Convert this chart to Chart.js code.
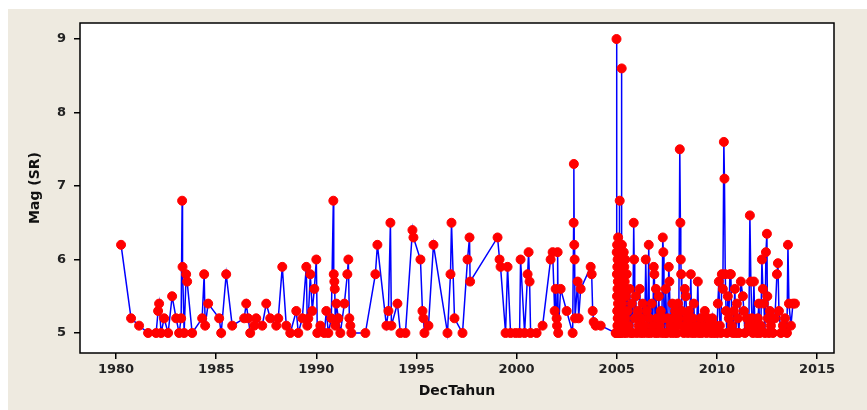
<!DOCTYPE html>
<html>
<head>
<meta charset="utf-8">
<script src="https://cdn.jsdelivr.net/npm/chart.js@4.4.1/dist/chart.umd.min.js"></script>
<style>
  html, body { margin: 0; padding: 0; background: #ffffff; }
  #wrap { width: 867px; height: 410px; position: relative; }
</style>
</head>
<body>
<div id="wrap"><canvas id="chart-ts" width="867" height="410"></canvas></div>
<script>
// time (decimal year) and magnitude
const decTahun = [
  1980.25, 1980.75, 1981.15, 1981.6, 1982.0, 1982.1, 1982.15, 1982.25, 1982.4, 1982.6,
  1982.8, 1983.0, 1983.15, 1983.25, 1983.3, 1983.32, 1983.4, 1983.5, 1983.55, 1983.8,
  1984.3, 1984.4, 1984.45, 1984.6, 1985.15, 1985.25, 1985.5, 1985.8, 1986.4, 1986.5,
  1986.6, 1986.7, 1986.9, 1987.0, 1987.3, 1987.5, 1987.7, 1988.0, 1988.1, 1988.3,
  1988.5, 1988.7, 1989.0, 1989.1, 1989.3, 1989.5, 1989.55, 1989.6, 1989.7, 1989.8,
  1989.9, 1990.0, 1990.05, 1990.2, 1990.4, 1990.5, 1990.6, 1990.75, 1990.85, 1990.87,
  1990.9, 1990.92, 1990.95, 1991.0, 1991.1, 1991.2, 1991.4, 1991.55, 1991.6, 1991.65,
  1991.7, 1991.75, 1992.45, 1992.95, 1993.05, 1993.5, 1993.6, 1993.7, 1993.75, 1994.05,
  1994.2, 1994.45, 1994.8, 1994.85, 1995.2, 1995.3, 1995.35, 1995.4, 1995.6, 1995.85,
  1996.55, 1996.7, 1996.75, 1996.9, 1997.3, 1997.55, 1997.65, 1997.68, 1999.05, 1999.15,
  1999.2, 1999.45, 1999.55, 1999.7, 1999.95, 2000.15, 2000.2, 2000.4, 2000.55, 2000.6,
  2000.65, 2000.7, 2001.0, 2001.3, 2001.7, 2001.8, 2001.9, 2001.95, 2002.0, 2002.02,
  2002.05, 2002.08, 2002.2, 2002.5, 2002.8, 2002.85, 2002.86, 2002.88, 2002.9, 2002.92,
  2003.05, 2003.1, 2003.2, 2003.7, 2003.75, 2003.8, 2003.85, 2003.95, 2004.2, 2004.95,
  // 2005 aftershock block
  2004.98, 2004.99, 2005.0, 2005.01, 2005.015, 2005.02, 2005.025, 2005.03, 2005.035, 2005.04,
  2005.045, 2005.05, 2005.055, 2005.06, 2005.065, 2005.07, 2005.075, 2005.08, 2005.085, 2005.09,
  2005.095, 2005.1, 2005.105, 2005.11, 2005.115, 2005.12, 2005.125, 2005.13, 2005.14, 2005.15,
  2005.16, 2005.17, 2005.18, 2005.19, 2005.2, 2005.21, 2005.22, 2005.23, 2005.24, 2005.25,
  2005.26, 2005.27, 2005.28, 2005.29, 2005.3, 2005.31, 2005.32, 2005.33, 2005.34, 2005.35,
  2005.36, 2005.37, 2005.38, 2005.39, 2005.4, 2005.42, 2005.44, 2005.46, 2005.48, 2005.5,
  2005.55, 2005.6, 2005.65, 2005.7, 2005.75, 2005.8,
  // 2005.8 - 2013.9
  2005.85, 2005.87, 2005.9, 2005.95, 2006.0, 2006.05, 2006.1, 2006.15, 2006.2, 2006.25,
  2006.3, 2006.35, 2006.4, 2006.45, 2006.5, 2006.55, 2006.6, 2006.63, 2006.7, 2006.75,
  2006.8, 2006.85, 2006.88, 2006.92, 2006.96, 2007.0, 2007.05, 2007.1, 2007.15, 2007.2,
  2007.25, 2007.3, 2007.33, 2007.36, 2007.4, 2007.45, 2007.5, 2007.55, 2007.6, 2007.63,
  2007.68, 2007.72, 2007.78, 2007.82, 2007.88, 2007.92, 2007.98, 2008.02, 2008.06, 2008.1,
  2008.15, 2008.18, 2008.2, 2008.22, 2008.25, 2008.3, 2008.35, 2008.4, 2008.45, 2008.5,
  2008.55, 2008.6, 2008.65, 2008.7, 2008.75, 2008.8, 2008.85, 2008.9, 2009.0, 2009.05,
  2009.1, 2009.18, 2009.25, 2009.32, 2009.4, 2009.48, 2009.55, 2009.62, 2009.7, 2009.78,
  2009.85, 2009.92, 2010.0, 2010.05, 2010.1, 2010.15, 2010.2, 2010.25, 2010.3, 2010.35,
  2010.38, 2010.42, 2010.46, 2010.5, 2010.55, 2010.6, 2010.65, 2010.7, 2010.75, 2010.8,
  2010.85, 2010.9, 2010.95, 2011.0, 2011.05, 2011.1, 2011.2, 2011.3, 2011.35, 2011.4,
  2011.5, 2011.6, 2011.65, 2011.7, 2011.75, 2011.8, 2011.85, 2011.9, 2012.0, 2012.05,
  2012.1, 2012.15, 2012.2, 2012.25, 2012.3, 2012.35, 2012.4, 2012.45, 2012.5, 2012.52,
  2012.55, 2012.6, 2012.65, 2012.7, 2012.8, 2012.9, 2013.0, 2013.05, 2013.1, 2013.2,
  2013.3, 2013.4, 2013.5, 2013.55, 2013.6, 2013.7, 2013.8, 2013.9
];
const mag = [
  6.2, 5.2, 5.1, 5.0, 5.0, 5.3, 5.4, 5.0, 5.2, 5.0,
  5.5, 5.2, 5.0, 5.2, 6.8, 5.9, 5.0, 5.8, 5.7, 5.0,
  5.2, 5.8, 5.1, 5.4, 5.2, 5.0, 5.8, 5.1, 5.2, 5.4,
  5.2, 5.0, 5.1, 5.2, 5.1, 5.4, 5.2, 5.1, 5.2, 5.9,
  5.1, 5.0, 5.3, 5.0, 5.2, 5.9, 5.1, 5.2, 5.8, 5.3,
  5.6, 6.0, 5.0, 5.1, 5.0, 5.3, 5.0, 5.2, 6.8, 5.8,
  5.7, 5.6, 5.1, 5.4, 5.2, 5.0, 5.4, 5.8, 6.0, 5.2,
  5.1, 5.0, 5.0, 5.8, 6.2, 5.1, 5.3, 6.5, 5.1, 5.4,
  5.0, 5.0, 6.4, 6.3, 6.0, 5.3, 5.2, 5.0, 5.1, 6.2,
  5.0, 5.8, 6.5, 5.2, 5.0, 6.0, 6.3, 5.7, 6.3, 6.0,
  5.9, 5.0, 5.9, 5.0, 5.0, 5.0, 6.0, 5.0, 5.8, 6.1,
  5.7, 5.0, 5.0, 5.1, 6.0, 6.1, 5.3, 5.6, 5.2, 5.1,
  6.1, 5.0, 5.6, 5.3, 5.0, 6.5, 7.3, 6.2, 6.0, 5.2,
  5.7, 5.2, 5.6, 5.9, 5.8, 5.3, 5.15, 5.1, 5.1, 5.0,
  // 2005 aftershock block
  5.0, 9.0, 6.1, 5.8, 5.5, 6.2, 5.3, 5.9, 5.1, 5.6,
  6.0, 5.2, 5.7, 5.0, 5.4, 6.3, 5.1, 5.5, 5.9, 5.2,
  5.8, 5.0, 5.6, 6.1, 5.3, 5.7, 5.0, 6.2, 5.4, 6.8,
  5.5, 5.9, 5.2, 5.8, 5.0, 5.6, 6.1, 5.3, 5.7, 8.6,
  6.2, 5.4, 5.9, 5.1, 6.0, 5.5, 5.2, 5.8, 5.0, 6.1,
  5.6, 5.3, 5.9, 5.1, 5.7, 6.0, 5.2, 5.5, 5.0, 5.8,
  5.3, 5.1, 5.6, 5.0, 5.4, 5.0,
  // 2005.8 - 2013.9
  6.5, 6.0, 5.2, 5.5, 5.0, 5.3, 5.1, 5.6, 5.0, 5.2,
  5.4, 5.0, 5.1, 6.0, 5.3, 5.0, 6.2, 5.2, 5.0, 5.4,
  5.1, 5.9, 5.8, 5.0, 5.6, 5.2, 5.0, 5.5, 5.1, 5.3,
  5.0, 6.3, 6.1, 5.2, 5.0, 5.6, 5.0, 5.2, 5.9, 5.7,
  5.1, 5.0, 5.4, 5.2, 5.0, 5.3, 5.1, 5.0, 5.4, 5.2,
  7.5, 6.5, 6.0, 5.8, 5.3, 5.1, 5.0, 5.6, 5.5, 5.2,
  5.0, 5.3, 5.1, 5.8, 5.0, 5.2, 5.4, 5.0, 5.1, 5.7,
  5.0, 5.2, 5.0, 5.1, 5.3, 5.0, 5.2, 5.1, 5.0, 5.2,
  5.0, 5.1, 5.0, 5.4, 5.7, 5.1, 5.0, 5.8, 5.6, 7.6,
  7.1, 5.8, 5.3, 5.0, 5.5, 5.2, 5.8, 5.8, 5.1, 5.0,
  5.3, 5.6, 5.0, 5.4, 5.2, 5.0, 5.7, 5.5, 5.3, 5.0,
  5.2, 5.1, 6.6, 5.7, 5.2, 5.0, 5.7, 5.1, 5.0, 5.2,
  5.4, 5.0, 5.1, 6.0, 5.6, 5.4, 5.0, 6.1, 6.35, 5.5,
  5.2, 5.0, 5.3, 5.1, 5.0, 5.2, 5.8, 5.95, 5.3, 5.0,
  5.1, 5.2, 5.0, 6.2, 5.4, 5.1, 5.4, 5.4
];
const xTicks = [1980, 1985, 1990, 1995, 2000, 2005, 2010, 2015];
const yTicks = [5, 6, 7, 8, 9];

const points = decTahun.map((t, i) => ({ x: t, y: mag[i] }));

// beige panel, white plot area and black frame like the Minitab graph
const frame = {
  id: 'frame',
  beforeDraw(chart) {
    const c = chart.ctx, a = chart.chartArea;
    c.save();
    c.fillStyle = '#ffffff';
    c.fillRect(0, 0, chart.width, chart.height);
    c.fillStyle = '#EEEAE0';
    c.fillRect(8, 9, chart.width - 8, chart.height - 9);
    c.fillStyle = '#ffffff';
    c.fillRect(a.left, a.top, a.right - a.left, a.bottom - a.top);
    c.restore();
  },
  afterDraw(chart) {
    const c = chart.ctx, a = chart.chartArea;
    c.save();
    c.strokeStyle = '#000';
    c.lineWidth = 1.5;
    c.strokeRect(a.left, a.top, a.right - a.left, a.bottom - a.top);
    c.restore();
  }
};

const tickFont = { family: 'DejaVu Sans', size: 13, weight: 'bold' };
const titleFont = { family: 'DejaVu Sans', size: 14, weight: 'bold' };

new Chart(document.getElementById('chart-ts'), {
  type: 'line',
  data: {
    datasets: [{
      data: points,
      borderColor: '#0000FF',
      borderWidth: 1.5,
      tension: 0,
      pointStyle: 'circle',
      pointRadius: 4.5,
      pointBackgroundColor: '#FF0000',
      pointBorderColor: '#FF0000',
      pointBorderWidth: 1
    }]
  },
  options: {
    responsive: false,
    animation: false,
    layout: { padding: { top: 23, right: 33, left: 0, bottom: 0 } },
    plugins: { legend: { display: false }, tooltip: { enabled: false } },
    scales: {
      x: {
        type: 'linear',
        min: 1978.2,
        max: 2015.85,
        afterBuildTicks: s => { s.ticks = xTicks.map(v => ({ value: v })); },
        afterFit: s => { s.height = 57; },
        border: { display: false },
        grid: { drawOnChartArea: false, drawTicks: true, tickLength: 6, color: '#000', lineWidth: 1.5 },
        ticks: { font: tickFont, color: '#222', padding: 3, maxRotation: 0, callback: v => String(v) },
        title: { display: true, text: 'DecTahun', font: titleFont, color: '#111', padding: { top: 0, bottom: 10 } }
      },
      y: {
        min: 4.728,
        max: 9.218,
        afterBuildTicks: s => { s.ticks = yTicks.map(v => ({ value: v })); },
        afterFit: s => { s.width = 80; },
        border: { display: false },
        grid: { drawOnChartArea: false, drawTicks: true, tickLength: 6, color: '#000', lineWidth: 1.5 },
        ticks: { font: tickFont, color: '#222', padding: 8, callback: v => String(v) },
        title: { display: true, text: 'Mag (SR)', font: titleFont, color: '#111', padding: { top: 27, bottom: 0 } }
      }
    }
  },
  plugins: [frame]
});
</script>
</body>
</html>
